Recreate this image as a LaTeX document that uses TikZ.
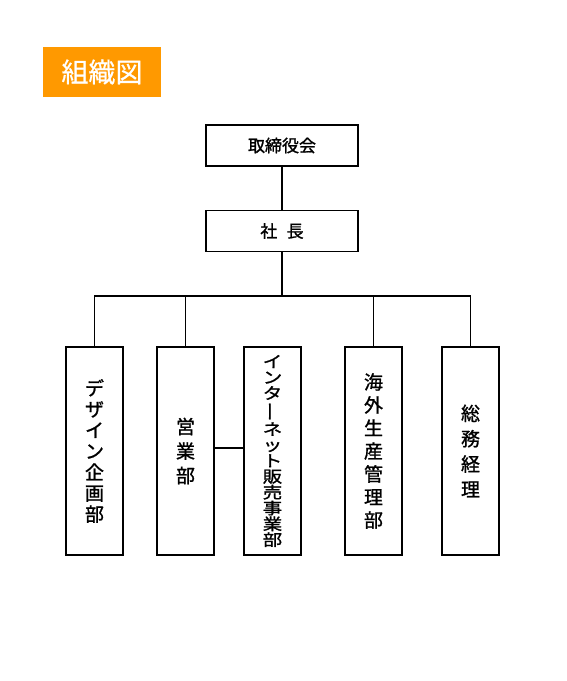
\documentclass[tikz,border=0pt]{standalone}
\usepackage{fontspec}
\usepackage{graphicx}
\newfontfamily\cjk[FakeBold=1.2]{Noto Sans CJK JP}
\newfontfamily\cjklight[FakeBold=0.7]{Noto Sans CJK JP}
\newfontfamily\cjkwide[FakeStretch=1.22, FakeBold=1.2]{Noto Sans CJK JP}
\tikzset{
	unit/.style = {draw, line width = 1.2pt, minimum width = 152pt, minimum height = 41pt, inner sep = 0pt, font = {\cjk\fontsize{17}{20}\selectfont}},
	dept/.style = {draw, line width = 1.2pt, minimum width = 57pt, minimum height = 208pt, inner sep = 0pt, align = center},
	link/.style = {line width = 1.2pt}
}
\begin{document}
\begin{tikzpicture}[x = 1pt, y = -1pt]
	\useasboundingbox (0,0) rectangle (567,681);
	\node (title) at (102,72) [fill = {rgb,255:red,255;green,153;blue,0}, minimum width = 118pt, minimum height = 50pt, text = white, font = {\cjklight\fontsize{27}{30}\selectfont}] {組織図};
	\node (board) at (282,145.5) [unit] {取締役会};
	\node (ceo) at (282,231) [unit] {社\hspace{0.55em}長};
	\node (design) at (94.5,451) [dept, font = {\cjk\fontsize{19}{21}\selectfont}] {デ\\ザ\\イ\\ン\\企\\画\\部};
	\node (sales) at (185.5,451) [dept, font = {\cjk\fontsize{19}{24.5}\selectfont}] {営\\業\\部};
	\node (web) at (272.5,451) [dept, font = {\cjkwide\fontsize{16}{15.8}\selectfont}] {イ\\ン\\タ\\\rotatebox[origin=c]{90}{ー}\\ネ\\ッ\\ト\\販\\売\\事\\業\\部};
	\node (overseas) at (373.5,451) [dept, font = {\cjk\fontsize{19}{23}\selectfont}] {海\\外\\生\\産\\管\\理\\部};
	\node (admin) at (470.5,451) [dept, font = {\cjk\fontsize{19}{25.3}\selectfont}] {総\\務\\経\\理};
	\coordinate (hub) at (282,296);
	\draw [link] (board) -- (ceo);
	\draw [link] (ceo) -- (hub);
	\draw [link] (design.north) |- (hub) -| (admin.north);
	\draw [link] (sales.north) -- (sales.north |- hub);
	\draw [link] (overseas.north) -- (overseas.north |- hub);
	\draw [link] (sales.east |- 0,448) -- (web.west |- 0,448);
\end{tikzpicture}
\end{document}
